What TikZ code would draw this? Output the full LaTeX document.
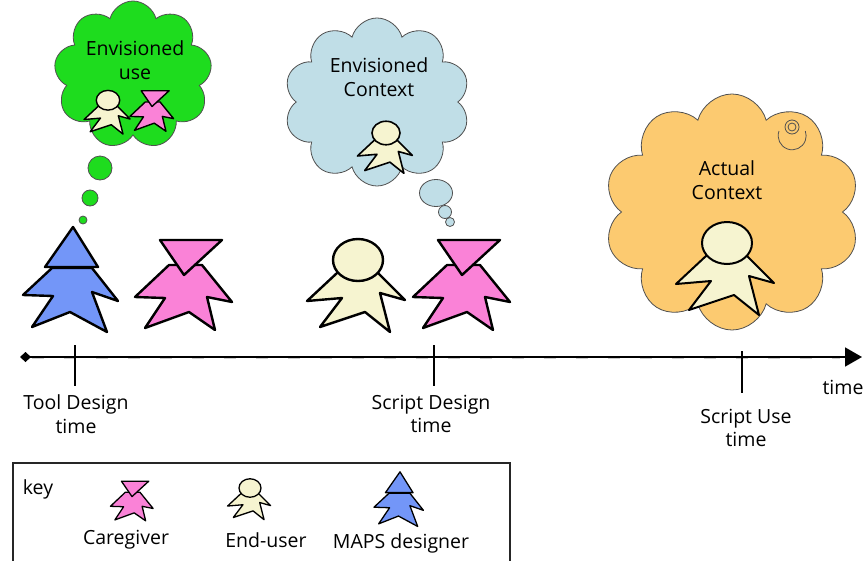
\documentclass[tikz,border=0pt]{standalone}
\usepackage{fontspec}
\setmainfont{Open Sans}
\usetikzlibrary{shapes.symbols,shapes.geometric,arrows.meta}

\definecolor{pinkfig}{RGB}{250,130,215}
\definecolor{bluefig}{RGB}{115,150,248}
\definecolor{creamfig}{RGB}{246,244,208}
\definecolor{greencloud}{RGB}{30,220,30}
\definecolor{bluecloud}{RGB}{192,222,231}
\definecolor{orangecloud}{RGB}{252,202,112}
\definecolor{cloudline}{RGB}{80,80,80}

\tikzset{
  figline/.style={draw=black, line join=round},
  % caregiver: inverted triangle head over a jagged body
  pics/caregiver/.style={code={
    \draw[figline,fill=pinkfig] (-15,-20) -- (-49,12) -- (-19,13) -- (-39,43) -- (5,27)
      -- (31,45) -- (23,12) -- (48,17) -- (18,-20) -- cycle;
    \draw[figline,fill=pinkfig] (-24,-45) -- (38,-45) -- (0,-10) -- cycle;
  }},
  % end-user: round head over a jagged body
  pics/enduser/.style={code={
    \draw[figline,fill=creamfig] (-21,-12) -- (-51,16) -- (-16,13) -- (-38,42) -- (7,27)
      -- (32,47) -- (22,8) -- (47,15) -- (20,-12) -- cycle;
    \draw[figline,fill=creamfig] (0,-25) ellipse [x radius=25, y radius=21];
  }},
  % designer: pointed triangle head over a jagged body
  pics/designer/.style={code={
    \draw[figline,fill=bluefig] (-21,-17) -- (-50,10) -- (-20,11) -- (-41,42) -- (-3,27)
      -- (34,47) -- (19,7) -- (45,16) -- (19,-17) -- cycle;
    \draw[figline,fill=bluefig] (-28,-18) -- (25,-18) -- (0,-58) -- cycle;
  }},
  thought/.style={cloud, cloud puffs=9, cloud ignores aspect, draw=cloudline, line width=0.8pt},
  bubble/.style={circle, draw=cloudline, line width=0.8pt, inner sep=0pt},
  lbl/.style={font=\fontsize{19.5}{23.5}\selectfont, align=center, inner sep=0pt},
  tick/.style={line width=1.4pt},
}

\begin{document}
\begin{tikzpicture}[x=1pt, y=-1pt]
\useasboundingbox (0,0) rectangle (867,560);

% ---- thought clouds ----
\node[thought, fill=greencloud, minimum width=158pt, minimum height=148pt] (gcloud) at (133,75) {};
\node[bubble, fill=greencloud, minimum size=24pt] (gb1) at (100,168) {};
\node[bubble, fill=greencloud, minimum size=16pt] (gb2) at (90,198) {};
\node[bubble, fill=greencloud, minimum size=8pt] (gb3) at (83,220) {};
\node[lbl] (gtext) at (135,60) {Envisioned\\use};

\node[thought, cloud puffs=10, fill=bluecloud, minimum width=186pt, minimum height=168pt] (bcloud) at (377,102) {};
\node[bubble, ellipse, fill=bluecloud, minimum width=33pt, minimum height=27pt] (bb1) at (436,193) {};
\node[bubble, fill=bluecloud, minimum size=13pt] (bb2) at (445,212) {};
\node[bubble, fill=bluecloud, minimum size=9pt] (bb3) at (450,222) {};
\node[lbl] (btext) at (379,77) {Envisioned\\Context};

\node[thought, cloud puffs=10, fill=orangecloud, minimum width=256pt, minimum height=236pt] (ocloud) at (732,212) {};
\draw[cloudline, line width=0.8pt] (792,127) circle [radius=7];
\draw[cloudline, line width=0.8pt] (792,127) circle [radius=4];
\draw[cloudline, line width=0.8pt] (779,131) arc [start angle=200, end angle=-20, radius=14];
\node[lbl] (otext) at (727,180) {Actual\\Context};

% ---- figures in the clouds ----
\pic[scale=0.47, line width=1.4pt] (geu) at (108,112) {enduser};
\pic[scale=0.45, line width=1.4pt] (gcg) at (152,111) {caregiver};
\pic[scale=0.56, line width=1.6pt] (beu) at (386,147) {enduser};
\pic[line width=2pt] (oeu) at (727,268) {enduser};

% ---- figures above the time line ----
\pic[line width=2.4pt] (d1) at (73,285) {designer};
\pic[line width=2.4pt] (c1) at (184,285) {caregiver};
\pic[line width=2.4pt] (e1) at (358,285) {enduser};
\pic[line width=2.4pt] (c2) at (462,285) {caregiver};

% ---- time line ----
\coordinate (tstart) at (20,357);
\coordinate (tend) at (862,357);
\draw[black!20, line width=2.8pt, dash pattern=on 12pt off 20pt] (32,358) -- (840,358);
\draw[line width=1.8pt, {Diamond[length=11pt,width=10pt]}-{Triangle[length=17pt,width=19pt]}] (tstart) -- (tend);

\coordinate (k1a) at (75,345);  \coordinate (k1b) at (75,386);
\coordinate (k2a) at (434,345); \coordinate (k2b) at (434,386);
\coordinate (k3a) at (742,351); \coordinate (k3b) at (742,393);
\draw[tick] (k1a) -- (k1b);
\draw[tick] (k2a) -- (k2b);
\draw[tick] (k3a) -- (k3b);

\node[lbl] (l1) at (76,414) {Tool Design\\time};
\node[lbl] (l2) at (431,414) {Script Design\\time};
\node[lbl] (l3) at (746,428) {Script Use\\time};
\node[lbl] (ltime) at (843,387) {time};

% ---- key ----
\coordinate (ka) at (13,562);
\coordinate (kb) at (13,463);
\coordinate (kc) at (510,463);
\coordinate (kd) at (510,562);
\draw[line width=1.5pt, draw=black!85] (ka) -- (kb) -- (kc) -- (kd);
\node[lbl] (keyl) at (38,489) {key};
\pic[scale=0.44, line width=1.3pt] (kcg) at (132,501) {caregiver};
\pic[scale=0.44, line width=1.3pt] (keu) at (250,499) {enduser};
\pic[scale=0.52, line width=1.3pt] (kds) at (400,502) {designer};
\node[lbl] (kl1) at (126,540) {Caregiver};
\node[lbl] (kl2) at (266,540) {End-user};
\node[lbl] (kl3) at (401,543) {MAPS designer};
\end{tikzpicture}
\end{document}
